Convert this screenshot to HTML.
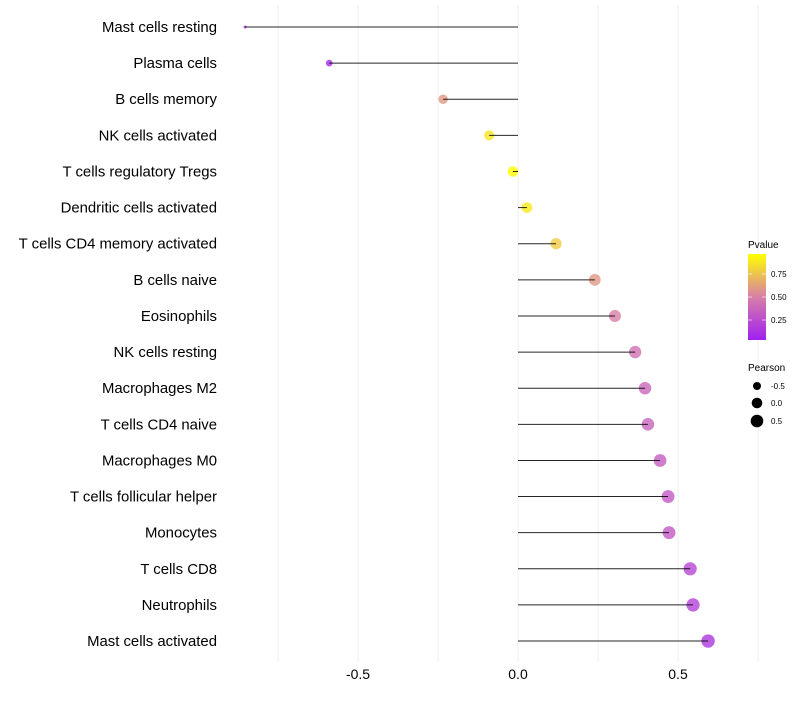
<!DOCTYPE html>
<html><head><meta charset="utf-8"><style>
body{margin:0;background:#fff;font-family:"Liberation Sans",sans-serif}
</style></head><body>
<svg id="c" width="800" height="700" xmlns="http://www.w3.org/2000/svg">
<defs><linearGradient id="pg" x1="0" y1="1" x2="0" y2="0">
<stop offset="0" stop-color="#A020F0"/><stop offset="0.5" stop-color="#D87FA8"/><stop offset="1" stop-color="#FFFF00"/></linearGradient></defs>
<g id="grid"></g><g id="dots"></g><g id="marks"></g><g id="labels"></g>
<g>
<text x="748" y="248" font-size="10" fill="#000">Pvalue</text>
<rect x="748" y="254" width="18" height="86" fill="url(#pg)"/>
<g stroke="#fff" stroke-width="1" opacity="0.6"><line x1="748" y1="274" x2="752" y2="274"/><line x1="762" y1="274" x2="766" y2="274"/><line x1="748" y1="297" x2="752" y2="297"/><line x1="762" y1="297" x2="766" y2="297"/><line x1="748" y1="320" x2="752" y2="320"/><line x1="762" y1="320" x2="766" y2="320"/></g>
<text x="771" y="277" font-size="8">0.75</text><text x="771" y="300" font-size="8">0.50</text><text x="771" y="323" font-size="8">0.25</text>
</g>
<g>
<text x="748" y="371" font-size="10">Pearson</text>
<circle cx="757" cy="386" r="4"/><circle cx="757" cy="403" r="5.3"/><circle cx="757" cy="421" r="6.3"/>
<text x="771" y="389" font-size="8">-0.5</text><text x="771" y="406" font-size="8">0.0</text><text x="771" y="424" font-size="8">0.5</text>
</g>
</svg>
<script>
const categories=["Mast cells resting","Plasma cells","B cells memory","NK cells activated","T cells regulatory  Tregs ","Dendritic cells activated","T cells CD4 memory activated","B cells naive","Eosinophils","NK cells resting","Macrophages M2","T cells CD4 naive","Macrophages M0","T cells follicular helper","Monocytes","T cells CD8","Neutrophils","Mast cells activated"];
const pearson=[-0.853,-0.59,-0.234,-0.09,-0.016,0.028,0.119,0.24,0.303,0.366,0.397,0.406,0.444,0.469,0.472,0.538,0.547,0.594];
const pvalue=[0.02,0.05,0.6,0.9,1.0,0.92,0.8,0.6,0.5,0.42,0.38,0.36,0.32,0.3,0.3,0.2,0.18,0.12];
const xTicks=[-0.5,0,0.5];
const xTickLabels=["-0.5","0.0","0.5"];
const NS="http://www.w3.org/2000/svg";
const xs=v=>518+v*320;
const ys=i=>27+i*36.12;
function lerp(a,b,t){return a.map((x,k)=>Math.round(x+(b[k]-x)*t));}
function col(p){const lo=[160,32,240],mid=[216,127,168],hi=[255,255,0];
 const c=p<0.5?lerp(lo,mid,p/0.5):lerp(mid,hi,(p-0.5)/0.5);return `rgb(${c})`;}
const rad=v=>Math.max(1.5,5.3+v*2.4-(v<-0.5?(-0.5-v)*6:0));
function mk(tag,at,parent){const e=document.createElementNS(NS,tag);for(const k in at)e.setAttribute(k,at[k]);parent.appendChild(e);return e;}
const grid=document.getElementById('grid'),marks=document.getElementById('marks'),labels=document.getElementById('labels'),dots=document.getElementById('dots');
[-0.75,-0.5,-0.25,0,0.25,0.5,0.75].forEach(v=>{const l=mk('line',{x1:xs(v),x2:xs(v),y1:5,y2:662,stroke:'#efefef','stroke-width':1},grid);
});
xTicks.forEach((v,i)=>{const t=mk('text',{x:xs(v),y:679,'font-size':14,'text-anchor':'middle',fill:'#000'},labels);t.textContent=xTickLabels[i];
});
categories.forEach((c,i)=>{const y=ys(i);
 const t=mk('text',{x:217,y:y+5,'font-size':14.9,'text-anchor':'end',fill:'#000'},labels);t.textContent=c;
 
 const d=mk('circle',{cx:xs(pearson[i]),cy:y,r:rad(pearson[i]),fill:col(pvalue[i]),'fill-opacity':0.8},dots);
 
 const l=mk('line',{x1:xs(0),x2:xs(pearson[i]),y1:y,y2:y,stroke:'#000','stroke-width':1,'stroke-opacity':0.85},marks);
 
});
</script>
</body></html>
